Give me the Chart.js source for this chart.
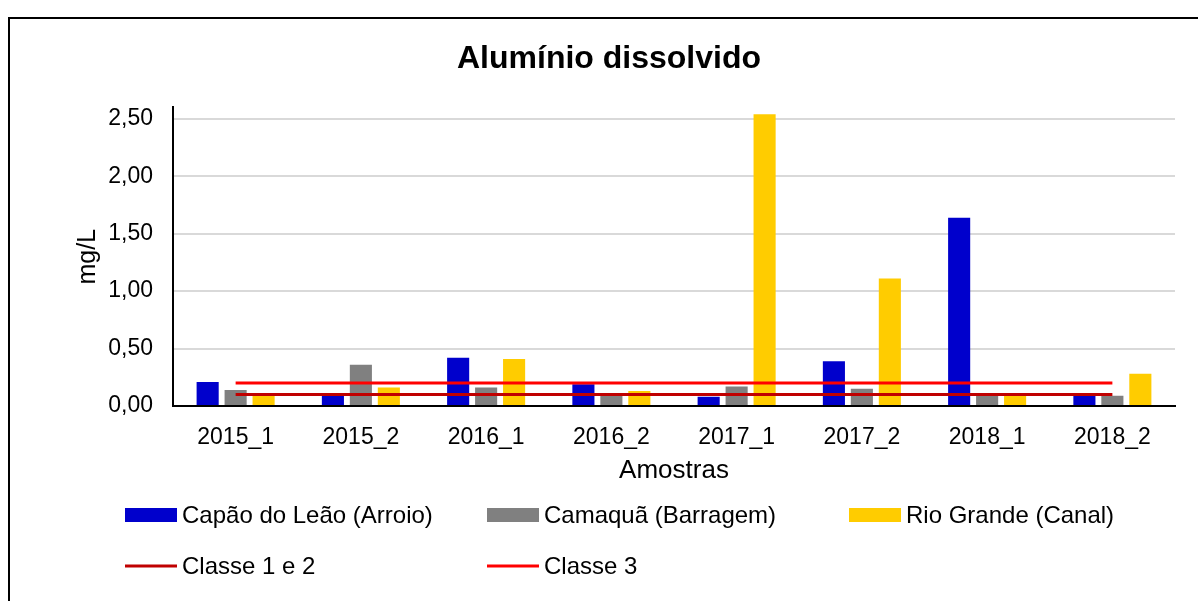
<!DOCTYPE html>
<html>
<head>
<meta charset="utf-8">
<script src="https://cdn.jsdelivr.net/npm/chart.js@4.4.1/dist/chart.umd.min.js"></script>
<style>
    html, body { margin: 0; padding: 0; background: #fff; }
    #wrap { width: 1198px; height: 601px; position: relative; }
</style>
</head>
<body>
<div id="wrap"><canvas id="chart"></canvas></div>
<script>
// Data
const categories = ['2015_1', '2015_2', '2016_1', '2016_2', '2017_1', '2017_2', '2018_1', '2018_2'];
const capaoDoLeao = [0.21, 0.09, 0.42, 0.19, 0.08, 0.39, 1.64, 0.09];
const camaqua = [0.14, 0.36, 0.16, 0.10, 0.17, 0.15, 0.09, 0.09];
const rioGrande = [0.09, 0.16, 0.41, 0.13, 2.54, 1.11, 0.09, 0.28];
const classe12 = [0.1, 0.1, 0.1, 0.1, 0.1, 0.1, 0.1, 0.1];
const classe3 = [0.2, 0.2, 0.2, 0.2, 0.2, 0.2, 0.2, 0.2];
const yTicks = [0, 0.5, 1.0, 1.5, 2.0, 2.5];

const FONT = "'Liberation Sans', Arial, sans-serif";

// Border frame plus a grid-style legend (3 columns) under the axes
const frameAndLegend = {
    id: 'frameAndLegend',
    afterDraw(chart) {
        const ctx = chart.ctx;
        ctx.save();
        ctx.strokeStyle = '#000';
        ctx.lineWidth = 2;
        ctx.strokeRect(9, 18, 1300, 700);

        const colX = [125, 487, 849];
        const rowY = [515, 566];
        ctx.font = '24px ' + FONT;
        ctx.textBaseline = 'middle';
        ctx.fillStyle = '#000';
        chart.data.datasets.forEach(ds => {
            const x = colX[ds.legendSlot % 3];
            const y = rowY[Math.floor(ds.legendSlot / 3)];
            if (ds.type === 'line') {
                ctx.strokeStyle = ds.borderColor;
                ctx.lineWidth = 3;
                ctx.beginPath();
                ctx.moveTo(x, y);
                ctx.lineTo(x + 52, y);
                ctx.stroke();
            } else {
                ctx.fillStyle = ds.backgroundColor;
                ctx.fillRect(x, y - 7, 52, 14);
            }
            ctx.fillStyle = '#000';
            ctx.fillText(ds.label, x + 57, y + 1);
        });
        ctx.restore();
    }
};

const config = {
    type: 'bar',
    data: {
        labels: categories,
        datasets: [
            { type: 'line', label: 'Classe 1 e 2', data: classe12, borderColor: '#C00000', borderWidth: 3, pointRadius: 0, order: 0, legendSlot: 3 },
            { type: 'line', label: 'Classe 3', data: classe3, borderColor: '#FF0000', borderWidth: 3, pointRadius: 0, order: 0, legendSlot: 4 },
            { label: 'Capão do Leão (Arroio)', data: capaoDoLeao, backgroundColor: '#0000CC', order: 1, legendSlot: 0 },
            { label: 'Camaquã (Barragem)', data: camaqua, backgroundColor: '#808080', order: 1, legendSlot: 1 },
            { label: 'Rio Grande (Canal)', data: rioGrande, backgroundColor: '#FFCC00', order: 1, legendSlot: 2 }
        ]
    },
    options: {
        responsive: true,
        maintainAspectRatio: false,
        animation: false,
        categoryPercentage: 0.67,
        barPercentage: 0.79,
        layout: { padding: { left: 43, right: 23, top: 40, bottom: 113 } },
        plugins: {
            legend: { display: false },
            tooltip: { enabled: false },
            title: {
                display: true,
                text: 'Alumínio dissolvido',
                color: '#000',
                font: { family: FONT, size: 32, weight: 'bold' },
                padding: { top: 0, bottom: 29 }
            }
        },
        scales: {
            x: {
                grid: { display: false },
                border: { color: '#000', width: 2 },
                ticks: { color: '#000', font: { family: FONT, size: 23 }, padding: 10, maxRotation: 0 },
                title: { display: true, text: 'Amostras', color: '#000', font: { family: FONT, size: 26 }, padding: { top: 0, bottom: 2 } },
                afterFit(scale) { scale.height = 82; }
            },
            y: {
                min: 0,
                max: 2.6,
                afterBuildTicks(scale) { scale.ticks = yTicks.map(v => ({ value: v })); },
                grid: { color: '#D9D9D9', lineWidth: 2, drawTicks: false },
                border: { color: '#000', width: 2 },
                ticks: {
                    color: '#000',
                    font: { family: FONT, size: 23 },
                    padding: 20,
                    callback: v => v.toFixed(2).replace('.', ',')
                },
                title: { display: true, text: 'mg/L', color: '#000', font: { family: FONT, size: 25 }, padding: { top: 30, bottom: 0 } },
                afterFit(scale) { scale.width = 130; }
            }
        }
    },
    plugins: [frameAndLegend]
};

new Chart(document.getElementById('chart').getContext('2d'), config);
</script>
</body>
</html>
